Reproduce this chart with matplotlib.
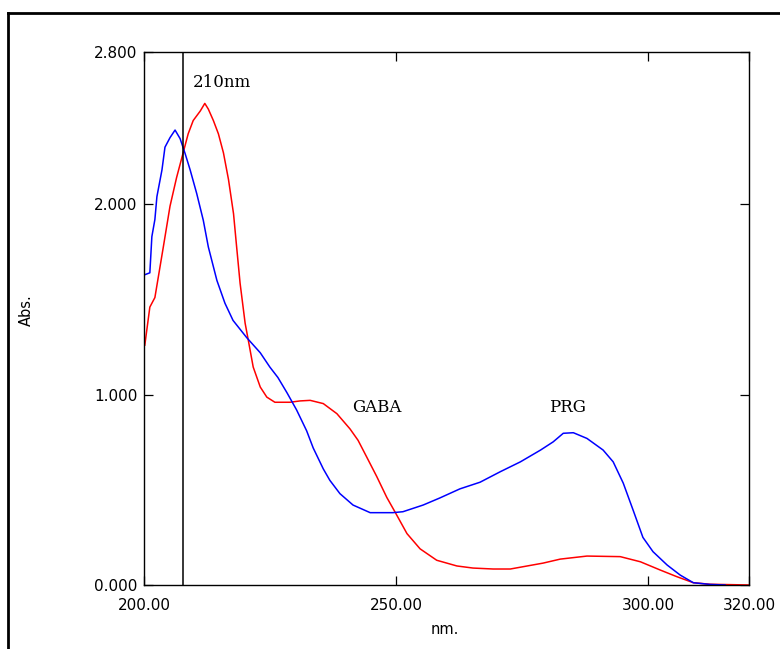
import matplotlib
matplotlib.use("Agg")
import matplotlib.pyplot as plt
from matplotlib.lines import Line2D

# ---- data ----
gaba_x = [200.1, 201.1, 202.1, 203.8, 205.1, 206.4, 207.7, 208.7, 209.7, 211.1, 212.0, 212.7,
          213.7, 214.7, 215.7, 216.7, 217.7, 218.3, 219.0, 220.0, 220.6, 221.6, 223.0, 224.3,
          225.9, 228.9, 230.9, 232.9, 235.5, 238.2, 240.8, 242.4, 244.1, 246.1, 248.1, 249.7,
          252.1, 254.7, 258.0, 262.0, 265.2, 269.2, 272.6, 279.1, 282.5, 287.8, 294.4, 298.4,
          302.3, 305.6, 308.9, 312.2, 320.0]
gaba_y = [1.26, 1.46, 1.51, 1.78, 1.99, 2.14, 2.27, 2.37, 2.44, 2.49, 2.53, 2.50,
          2.44, 2.37, 2.27, 2.13, 1.95, 1.78, 1.585, 1.375, 1.29, 1.145, 1.04, 0.987,
          0.96, 0.96, 0.967, 0.97, 0.953, 0.90, 0.82, 0.76, 0.673, 0.57, 0.46, 0.385,
          0.27, 0.19, 0.13, 0.10, 0.089, 0.084, 0.084, 0.115, 0.136, 0.152, 0.149, 0.122,
          0.079, 0.044, 0.012, 0.004, 0.0]

prg_x = [200.1, 201.1, 201.5, 202.1, 202.5, 203.5, 204.1, 205.1, 206.1, 207.1, 208.1, 209.1,
         210.4, 211.7, 212.7, 214.4, 216.0, 217.6, 220.3, 223.0, 224.9, 226.5, 228.3, 230.2,
         232.2, 233.5, 235.5, 236.8, 238.8, 241.4, 244.8, 249.3, 251.3, 255.3, 258.6, 262.6,
         266.6, 270.6, 274.6, 278.6, 281.1, 283.1, 285.1, 287.8, 291.0, 293.0, 295.0, 297.0,
         298.9, 300.9, 303.7, 306.3, 308.9, 312.2, 315.2]
prg_y = [1.63, 1.64, 1.83, 1.92, 2.04, 2.18, 2.30, 2.35, 2.39, 2.345, 2.266, 2.18,
         2.056, 1.916, 1.776, 1.60, 1.48, 1.39, 1.30, 1.22, 1.145, 1.09, 1.01, 0.92,
         0.81, 0.72, 0.61, 0.55, 0.48, 0.42, 0.38, 0.38, 0.385, 0.42, 0.457, 0.505,
         0.54, 0.595, 0.647, 0.709, 0.752, 0.797, 0.80, 0.77, 0.709, 0.647, 0.535, 0.39,
         0.25, 0.175, 0.105, 0.052, 0.012, 0.003, 0.0]

marker_nm = 207.7
x_ticks = [200, 250, 300, 320]
x_ticklabels = ["200.00", "250.00", "300.00", "320.00"]
y_ticks = [0, 1, 2, 2.8]
y_ticklabels = ["0.000", "1.000", "2.000", "2.800"]

fig = plt.figure(figsize=(7.8, 6.49), dpi=100)
ax = fig.add_axes([144.3 / 780, 1 - 585 / 649, (749.3 - 144.3) / 780, (585 - 52) / 649])

ax.plot(gaba_x, gaba_y, color="#ff0000", lw=1.1)
ax.plot(prg_x, prg_y, color="#0000ff", lw=1.1)
ax.axvline(marker_nm, color="black", lw=1.1)

ax.set_xlim(200, 320)
ax.set_ylim(0, 2.8)
ax.set_xticks(x_ticks)
ax.set_xticklabels(x_ticklabels)
ax.set_yticks(y_ticks)
ax.set_yticklabels(y_ticklabels)
ax.tick_params(direction="in", length=6.5, width=0.9, top=True, right=True,
               labelsize=11, colors="black")
ax.tick_params(axis="x", pad=9)
ax.tick_params(axis="y", pad=5)
for s in ax.spines.values():
    s.set_linewidth(1.0)

serif = dict(family="DejaVu Serif", fontsize=12, color="black")
ax.text(215.4, 2.64, "210nm", ha="center", va="center", **serif)
ax.text(246.2, 0.93, "GABA", ha="center", va="center", **serif)
ax.text(283.9, 0.93, "PRG", ha="center", va="center", **serif)

fig.text(26 / 780, 1 - 310 / 649, "Abs.", rotation=90, ha="center", va="center", fontsize=10.5)
fig.text(445 / 780, 1 - 630 / 649, "nm.", ha="center", va="center", fontsize=10.5)

# outer frame (left and top edges visible)
fig.add_artist(Line2D([8 / 780, 8 / 780], [0, 1 - 13 / 649], transform=fig.transFigure,
                      color="black", lw=2.0))
fig.add_artist(Line2D([8 / 780, 1.0], [1 - 13 / 649, 1 - 13 / 649], transform=fig.transFigure,
                      color="black", lw=2.0))

fig.savefig("out.png", dpi=100)
